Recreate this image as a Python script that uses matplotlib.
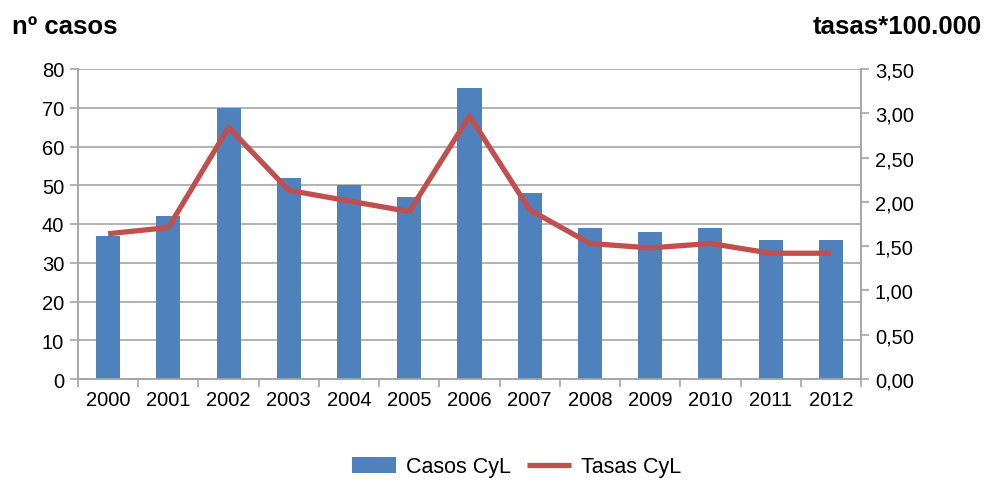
import matplotlib
matplotlib.use("Agg")
import matplotlib.pyplot as plt
from matplotlib.ticker import FixedLocator, FuncFormatter
import numpy as np

plt.rcParams['font.family'] = ['Liberation Sans', 'DejaVu Sans']

years = ['2000', '2001', '2002', '2003', '2004', '2005', '2006', '2007',
         '2008', '2009', '2010', '2011', '2012']
casos = [37, 42, 70, 52, 50, 47, 75, 48, 39, 38, 39, 36, 36]
tasas = [1.64, 1.71, 2.84, 2.13, 2.01, 1.89, 2.97, 1.91, 1.53, 1.48, 1.53, 1.42, 1.42]

bar_color = '#4F81BD'
line_color = '#C0504D'
grid_color = '#A6A6A6'
fs = 14.5

fig = plt.figure(figsize=(9.84, 4.81), dpi=100)
ax = fig.add_axes([78/984, 1-380/481, (861-78)/984, 310/481])
ax2 = ax.twinx()

x = np.arange(len(years))
ax.bar(x, casos, width=0.4, color=bar_color, label='Casos CyL', zorder=3)
ax2.plot(x, tasas, color=line_color, lw=3.8, label='Tasas CyL', zorder=4,
         solid_capstyle='butt')

ax.set_xlim(-0.5, len(years) - 0.5)
ax.set_ylim(0, 80)
ax2.set_ylim(0, 3.5)
ax.set_yticks(np.arange(0, 81, 10))
ax2.set_yticks(np.arange(0, 3.51, 0.5))
ax2.yaxis.set_major_formatter(FuncFormatter(lambda v, p: f"{v:.2f}".replace('.', ',')))

ax.set_xticks(x)
ax.set_xticklabels(years)
ax.xaxis.set_minor_locator(FixedLocator(np.arange(-0.5, len(years), 1)))
ax.tick_params(axis='x', which='major', length=0, pad=8, labelsize=fs)
ax.tick_params(axis='x', which='minor', length=6, color=grid_color, width=1.2)
ax.tick_params(axis='y', length=6, color=grid_color, width=1.2, labelsize=fs, pad=4)
ax2.tick_params(axis='y', length=6, color=grid_color, width=1.2, labelsize=fs, pad=4)

ax.grid(axis='y', color=grid_color, lw=1.2, zorder=0)
ax.set_axisbelow(True)
for a in (ax, ax2):
    a.spines['top'].set_visible(False)
    for s in ('left', 'right', 'bottom'):
        a.spines[s].set_color(grid_color)
        a.spines[s].set_linewidth(1.2)
ax2.patch.set_visible(False)
ax.set_zorder(1)
ax2.set_zorder(2)

fig.text(12/984, 1-27/481, 'nº casos', fontsize=18.5, fontweight='bold',
         ha='left', va='center')
fig.text(982/984, 1-27/481, 'tasas*100.000', fontsize=18.5, fontweight='bold',
         ha='right', va='center')

h1, l1 = ax.get_legend_handles_labels()
h2, l2 = ax2.get_legend_handles_labels()
fig.legend(h1 + h2, l1 + l2, loc='center', bbox_to_anchor=(517/984, 1-468/481),
           ncol=2, frameon=False, fontsize=15.5, handlelength=2.0, columnspacing=0.75,
           handletextpad=0.5)

fig.savefig('out.png', dpi=100)
